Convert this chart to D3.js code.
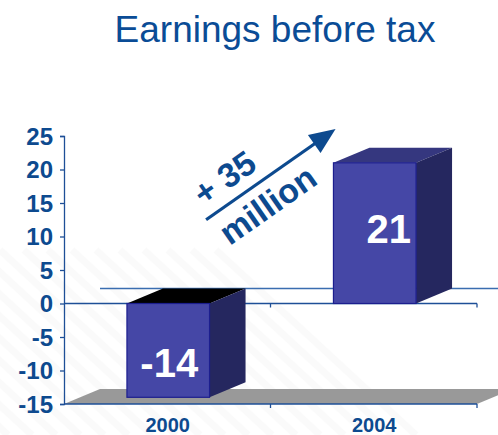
<!DOCTYPE html>
<html>
<head>
<meta charset="utf-8">
<script src="https://cdn.jsdelivr.net/npm/d3@7"></script>
<style>
  html, body { margin: 0; padding: 0; background: #fff; }
  svg { display: block; }
  text { font-family: "Liberation Sans", Arial, sans-serif; }
</style>
</head>
<body>
<svg id="chart" width="498" height="435"></svg>
<script>
// Earnings before tax, in millions
const categories = ["2000", "2004"];
const values = [-14, 21];
const yTicks = [-15, -10, -5, 0, 5, 10, 15, 20, 25];
const titleText = "Earnings before tax";
const changeLines = ["+ 35", "million"];

const blue = "#0D4A8F";
const axisBlue = "#1E4F97";
const depthX = 36, depthY = -15;

const svg = d3.select("#chart");

// very faint diagonal background texture in the lower left
const tex = svg.append("g").attr("opacity", 0.02);
for (let i = -8; i < 10; i++) {
  tex.append("line")
    .attr("x1", i * 24).attr("y1", 250)
    .attr("x2", i * 24 + 200).attr("y2", 435)
    .attr("stroke", "#444").attr("stroke-width", 7);
}

// title
svg.append("text")
  .attr("x", 275).attr("y", 41.5)
  .attr("text-anchor", "middle")
  .attr("font-size", 37)
  .attr("fill", "#0A4C96")
  .text(titleText);

const y = d3.scaleLinear().domain([-15, 25]).range([404, 136]);
const x = d3.scaleBand().domain(categories).range([64, 477]).padding(0);
const barW = x.bandwidth() * 0.4;

const x0 = x.range()[0], x1 = x.range()[1];

// back-wall zero line
svg.append("line")
  .attr("x1", x0 + depthX).attr("x2", x1 + depthX)
  .attr("y1", y(0) + depthY).attr("y2", y(0) + depthY)
  .attr("stroke", "#3A6DB0").attr("stroke-width", 1.3);

// floor at the axis minimum
const fy = y(-15);
svg.append("polygon")
  .attr("points", [
    [x0, fy], [x0 + depthX, fy + depthY], [x1 + depthX, fy + depthY], [x1, fy]
  ].map(p => p.join(",")).join(" "))
  .attr("fill", "#999999");

// front axis lines (zero and floor edge) with category ticks
[0, -15].forEach(v => {
  svg.append("line")
    .attr("x1", x0).attr("x2", x1)
    .attr("y1", y(v)).attr("y2", y(v))
    .attr("stroke", axisBlue).attr("stroke-width", 1.3);
  [x0 + x.bandwidth(), x1].forEach(tx => {
    svg.append("line")
      .attr("x1", tx).attr("x2", tx)
      .attr("y1", y(v)).attr("y2", y(v) + 4)
      .attr("stroke", axisBlue).attr("stroke-width", 1.3);
  });
});

// y axis
const yAxis = d3.axisLeft(y).tickValues(yTicks).tickFormat(d => String(d)).tickSize(4).tickPadding(7);
const ga = svg.append("g").attr("transform", `translate(${x0},0)`).call(yAxis);
ga.select(".domain").attr("stroke", axisBlue).attr("stroke-width", 1.3);
ga.selectAll(".tick line").attr("stroke", axisBlue).attr("stroke-width", 1.3);
ga.selectAll(".tick text")
  .attr("fill", blue)
  .attr("font-size", 24)
  .attr("font-weight", "bold")
  .attr("dy", "0.35em")
  .style("font-family", '"Liberation Sans", Arial, sans-serif');

// 3D bars
const bars = svg.append("g");
categories.forEach((c, i) => {
  const v = values[i];
  const bx = x(c) + x.bandwidth() / 2 - barW / 2 + 1;
  const yTop = y(Math.max(v, 0)), yBot = y(Math.min(v, 0));
  const g = bars.append("g");
  // top face
  g.append("polygon")
    .attr("points", [[bx, yTop], [bx + barW, yTop], [bx + barW + depthX, yTop + depthY], [bx + depthX, yTop + depthY]]
      .map(p => p.join(",")).join(" "))
    .attr("fill", v < 0 ? "#000000" : "#35377F");
  // side face
  g.append("polygon")
    .attr("points", [[bx + barW, yTop], [bx + barW + depthX, yTop + depthY], [bx + barW + depthX, yBot + depthY], [bx + barW, yBot]]
      .map(p => p.join(",")).join(" "))
    .attr("fill", "#25275F");
  // front face
  g.append("rect")
    .attr("x", bx).attr("y", yTop)
    .attr("width", barW).attr("height", yBot - yTop)
    .attr("fill", "#4547A6")
    .attr("stroke", "#1C1E8E").attr("stroke-width", 1.2);
  // value label
  const lx = bx + barW / 2 + (v > 0 ? 14 : 1);
  const ly = v > 0 ? (yTop + yBot) / 2 + 10 : yBot - 20;
  g.append("text")
    .attr("x", lx).attr("y", ly)
    .attr("text-anchor", "middle")
    .attr("font-size", 40).attr("font-weight", "bold")
    .attr("fill", "#ffffff")
    .text(v);
});

// category labels
svg.append("g").selectAll("text").data(categories).join("text")
  .attr("x", d => x(d) + x.bandwidth() / 2 + 0.5)
  .attr("y", 431.5)
  .attr("text-anchor", "middle")
  .attr("font-size", 20).attr("font-weight", "bold")
  .attr("fill", blue)
  .text(d => d);

// change annotation: rotated arrow with "+ 35 million"
const ann = svg.append("g").attr("transform", "translate(270,175) rotate(-35)");
ann.append("line")
  .attr("x1", -78).attr("y1", 0).attr("x2", 58).attr("y2", 0)
  .attr("stroke", blue).attr("stroke-width", 3.2);
ann.append("polygon")
  .attr("points", "80,0 54,-11 54,11")
  .attr("fill", blue);
ann.append("text")
  .attr("x", -39).attr("y", -12)
  .attr("text-anchor", "middle")
  .attr("font-size", 34).attr("font-weight", "bold")
  .attr("fill", blue)
  .text(changeLines[0]);
ann.append("text")
  .attr("x", -19).attr("y", 35)
  .attr("text-anchor", "middle")
  .attr("font-size", 34).attr("font-weight", "bold")
  .attr("fill", blue)
  .text(changeLines[1]);
</script>
</body>
</html>
